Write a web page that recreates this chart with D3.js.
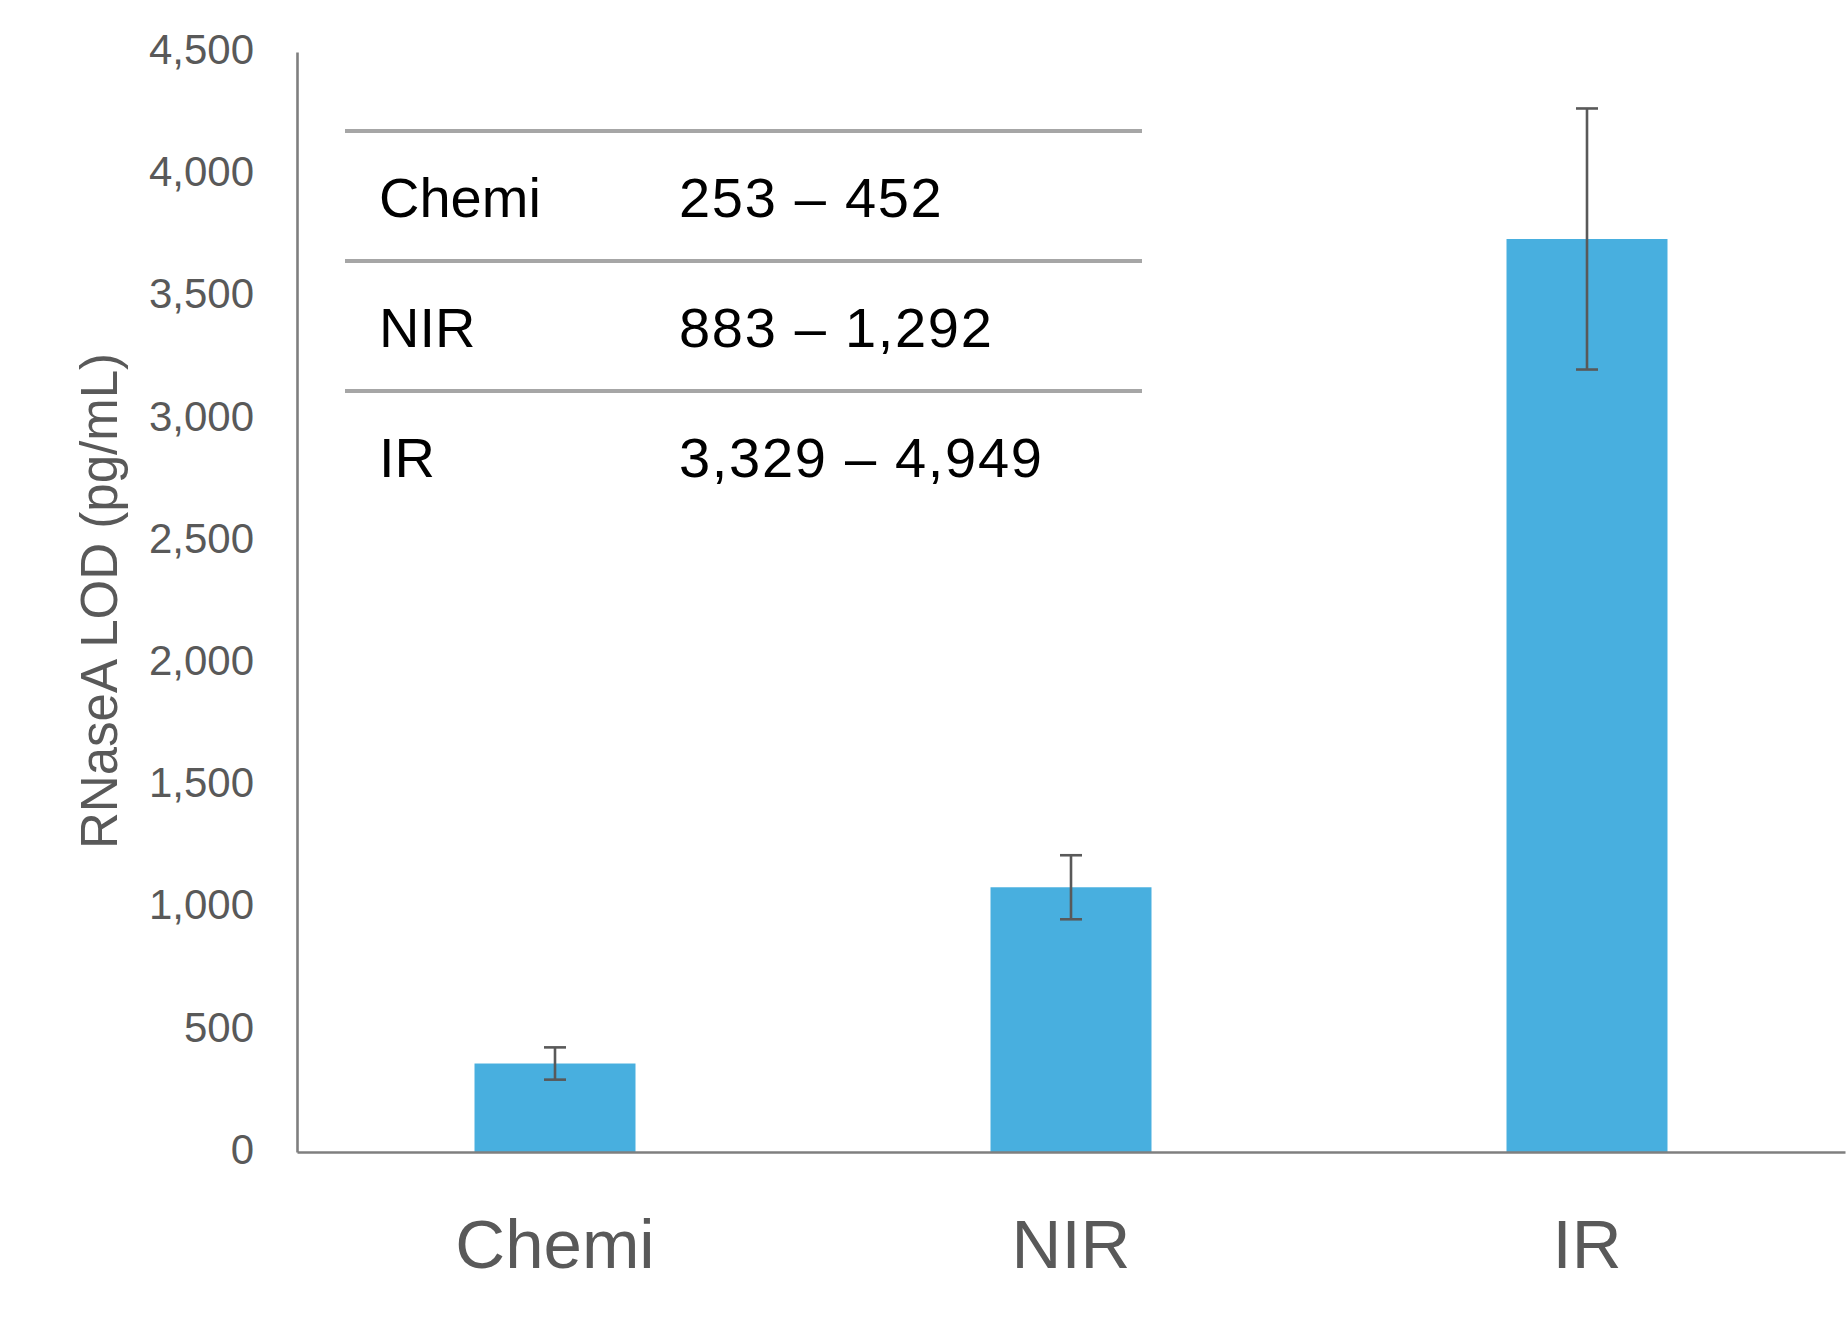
<!DOCTYPE html>
<html>
<head>
<meta charset="utf-8">
<script src="https://cdn.jsdelivr.net/npm/d3@7"></script>
<style>
  html, body { margin: 0; padding: 0; background: #ffffff; }
  svg { display: block; }
</style>
</head>
<body>
<svg id="chart" width="1848" height="1318"></svg>
<script>
const categories = ['Chemi', 'NIR', 'IR'];
const lodValues = [362, 1083, 3735];
const lodErrors = [66, 131, 534];
const yTicks = [0, 500, 1000, 1500, 2000, 2500, 3000, 3500, 4000, 4500];

const tableNames = ['Chemi', 'NIR', 'IR'];
const tableRanges = ['253 \u2013 452', '883 \u2013 1,292', '3,329 \u2013 4,949'];

const width = 1848;
const height = 1318;
const margin = { left: 297, right: 3, top: 52, bottom: 166 };
const font = "'Liberation Sans', Arial, sans-serif";
const grey = '#595959';

const svg = d3.select('#chart');

const x = d3.scaleBand()
  .domain(categories)
  .range([margin.left, width - margin.right])
  .paddingInner(0.688)
  .paddingOuter(0.344);

const y = d3.scaleLinear()
  .domain([0, 4500])
  .range([height - margin.bottom, margin.top]);

// bars
svg.append('g')
  .selectAll('rect')
  .data(categories)
  .enter()
  .append('rect')
  .attr('x', d => x(d))
  .attr('y', (d, i) => y(lodValues[i]))
  .attr('width', x.bandwidth())
  .attr('height', (d, i) => y(0) - y(lodValues[i]))
  .style('fill', '#48afdf');

// error bars
const err = svg.append('g')
  .attr('stroke', grey)
  .attr('stroke-width', 2.6);

categories.forEach((c, i) => {
  const cx = x(c) + x.bandwidth() / 2;
  const hi = y(lodValues[i] + lodErrors[i]);
  const lo = y(lodValues[i] - lodErrors[i]);
  err.append('line').attr('x1', cx).attr('x2', cx).attr('y1', hi).attr('y2', lo);
  err.append('line').attr('x1', cx - 11).attr('x2', cx + 11).attr('y1', hi).attr('y2', hi);
  err.append('line').attr('x1', cx - 11).attr('x2', cx + 11).attr('y1', lo).attr('y2', lo);
});

// y axis
const yAxis = d3.axisLeft(y)
  .tickValues(yTicks)
  .tickFormat(d3.format(','))
  .tickSize(0)
  .tickSizeOuter(0)
  .tickPadding(43);

const yg = svg.append('g')
  .attr('transform', `translate(${margin.left}, 0)`)
  .call(yAxis);
yg.select('.domain').attr('stroke', '#7f7f7f').attr('stroke-width', 2.6);
yg.selectAll('text')
  .attr('fill', grey)
  .attr('dy', '0.27em')
  .style('font-family', font)
  .style('font-size', '42px');

// x axis
const xAxis = d3.axisBottom(x)
  .tickSize(0)
  .tickSizeOuter(0)
  .tickPadding(67);

const xg = svg.append('g')
  .attr('transform', `translate(0, ${y(0)})`)
  .call(xAxis);
xg.select('.domain').attr('stroke', '#7f7f7f').attr('stroke-width', 2.6);
xg.selectAll('text')
  .attr('fill', grey)
  .style('font-family', font)
  .style('font-size', '69px');

// y axis title
svg.append('text')
  .attr('transform', 'rotate(-90)')
  .attr('x', -601)
  .attr('y', 117)
  .attr('text-anchor', 'middle')
  .attr('fill', grey)
  .style('font-family', font)
  .style('font-size', '51px')
  .text('RNaseA LOD (pg/mL)');

// inset table
const rowY = d3.scaleBand()
  .domain(tableNames)
  .range([131, 521]);

const table = svg.append('g');
const rows = table.selectAll('g')
  .data(tableNames)
  .enter()
  .append('g')
  .attr('transform', d => `translate(0, ${rowY(d)})`);

rows.append('line')
  .attr('x1', 345)
  .attr('x2', 1142)
  .attr('stroke', '#a6a6a6')
  .attr('stroke-width', 4);

rows.append('text')
  .attr('x', 379)
  .attr('y', 86)
  .attr('fill', '#000000')
  .style('font-family', font)
  .style('font-size', '56px')
  .text(d => d);

rows.append('text')
  .attr('x', 679)
  .attr('y', 86)
  .attr('fill', '#000000')
  .style('font-family', font)
  .style('font-size', '56px')
  .style('letter-spacing', '1.7px')
  .text((d, i) => tableRanges[i]);
</script>
</body>
</html>
